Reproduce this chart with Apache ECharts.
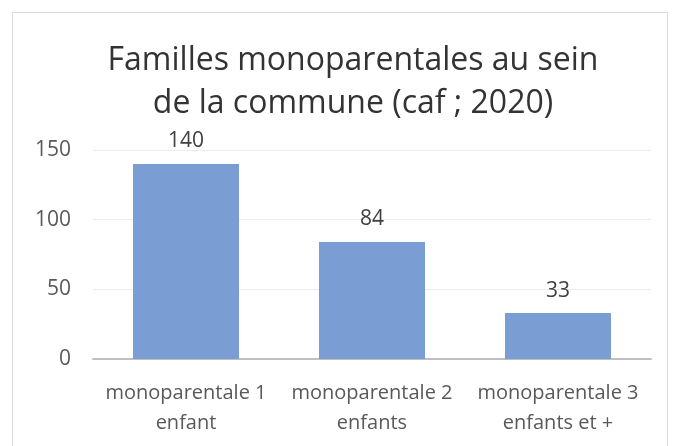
<!DOCTYPE html>
<html>
<head>
<meta charset="utf-8">
<script src="https://cdn.jsdelivr.net/npm/echarts@6/dist/echarts.min.js"></script>
<style>
  html, body { margin: 0; padding: 0; background: #fff; }
  #main { width: 683px; height: 446px; }
</style>
</head>
<body>
<div id="main"></div>
<script>
// données
var categories = ['monoparentale 1\nenfant', 'monoparentale 2\nenfants', 'monoparentale 3\nenfants et +'];
var values = [140, 84, 33];
var yTicks = [0, 50, 100, 150];

var chart = echarts.init(document.getElementById('main'));
chart.setOption({
  animation: false,
  textStyle: { fontFamily: 'Open Sans' },
  graphic: [
    {
      type: 'rect',
      shape: { x: 12.5, y: 12.5, width: 655, height: 460 },
      style: { fill: 'none', stroke: '#d9d9d9', lineWidth: 1 },
      silent: true
    },
    {
      type: 'text',
      x: 353,
      y: 82,
      style: {
        text: 'Familles monoparentales au sein\nde la commune (caf ; 2020)',
        fontFamily: 'Open Sans',
        fontSize: 32,
        lineHeight: 43,
        fill: '#333333',
        align: 'center',
        verticalAlign: 'middle'
      }
    }
  ],
  grid: { left: 93, right: 32, top: 150, bottom: 87, containLabel: false },
  xAxis: {
    type: 'category',
    data: categories,
    axisLine: { lineStyle: { color: '#bfbfbf', width: 2 } },
    axisTick: { show: false },
    axisLabel: {
      interval: 0,
      color: '#595959',
      fontSize: 20,
      lineHeight: 30,
      margin: 19
    }
  },
  yAxis: {
    type: 'value',
    min: yTicks[0],
    max: yTicks[yTicks.length - 1],
    interval: 50,
    axisLine: { show: false },
    axisTick: { show: false },
    axisLabel: { color: '#595959', fontSize: 21, margin: 22 },
    splitLine: { lineStyle: { color: '#ececec', width: 1 } }
  },
  series: [{
    type: 'bar',
    data: values,
    barWidth: '57%',
    itemStyle: { color: '#7a9dd4' },
    label: {
      show: true,
      position: 'top',
      distance: 12,
      color: '#404040',
      fontSize: 21
    }
  }]
});
</script>
</body>
</html>
